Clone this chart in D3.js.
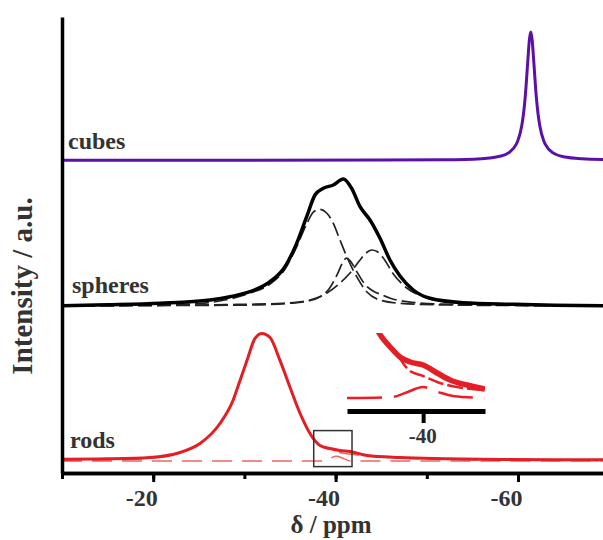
<!DOCTYPE html>
<html><head><meta charset="utf-8">
<script src="https://cdn.jsdelivr.net/npm/d3@7"></script>
<style>body{margin:0;background:#fff}svg{display:block}</style>
</head><body>
<svg id="c" width="603" height="540"></svg>
<script>
// ---------- DATA ----------
const seriesNames = ["cubes", "spheres", "rods"];
const xMinorTicks = [-10, -20, -30, -40, -50, -60, -70];
const xMajorTicks = [-20, -40, -60];
const xTickLabels = ["-20", "-40", "-60"];
const insetTicks = [-40];
const insetTickLabels = ["-40"];

// cubes (solid)
const cubesPpm = [-10,-30,-45,-52,-56,-58,-59,-59.8,-60.0,-60.4,-60.6,-60.8,-61.1,-61.25,-61.4,-61.55,-61.7,-62.0,-62.2,-62.4,-62.8,-63.0,-63.8,-65,-67,-70];
const cubesInt = [0,0.01,0.04,0.11,0.34,0.85,1.65,3.46,4.36,7.43,10.12,14.05,22.48,26.45,28.1,26.45,22.48,14.05,10.12,7.43,4.36,3.46,1.65,0.76,0.32,0.14];

// spheres (solid) + three fitted components (dashed)
const spheresPpm = [-10,-15,-20.75,-26.23,-28.42,-30.61,-32.81,-34.45,-35.73,-36.83,-37.74,-38.65,-39.75,-40.84,-41.76,-42.68,-43.77,-44.87,-45.96,-47.06,-48.52,-50.35,-54.0,-59.45,-64,-70];
const spheresInt = [0.05,0.25,0.59,1.32,2.04,3.14,5.33,8.62,13.75,19.58,24.34,25.81,26.54,27.85,25.81,21.78,18.86,14.85,10.09,6.58,3.51,1.69,0.72,0.37,0.15,0.05];
const sph1Ppm = [-10,-20.75,-25.13,-28.42,-30.61,-32.81,-34.45,-35.73,-36.83,-37.56,-38.29,-39.02,-39.75,-40.48,-41.39,-42.31,-43.41,-44.87,-47.06,-52.54,-60.2,-70];
const sph1Int = [0.1,0.22,0.55,1.54,2.85,4.82,8.11,13.0,18.0,20.6,21.2,20.39,18.14,14.47,10.09,6.43,3.14,1.3,0.59,0.22,0.11,0.07];
const sph2Ppm = [-10,-20,-30,-35,-37,-38.3,-39.3,-40.2,-40.8,-41.2,-41.6,-42.3,-43.2,-44.2,-44.9,-46,-48,-52,-60,-70];
const sph2Int = [0.05,0.1,0.2,0.6,1.1,2.0,3.8,7.0,9.6,10.5,9.9,7.6,4.8,3.2,2.6,1.7,0.9,0.4,0.15,0.07];
const sph3Ppm = [-10,-20,-28,-34.23,-37.19,-39.02,-40.48,-41.58,-42.68,-43.33,-43.96,-44.54,-45.23,-46.33,-47.8,-49.58,-52.18,-58.03,-64,-70];
const sph3Int = [0.05,0.15,0.3,0.59,1.32,2.79,5.04,7.24,10.09,11.6,12.28,11.95,10.53,7.02,3.95,2.04,0.94,0.33,0.17,0.1];

// rods (solid) + two fitted components (dashed)
const rodsPpm = [-10,-15,-19.65,-22.94,-25.13,-27.32,-28.75,-29.52,-30.29,-31.16,-31.93,-32.81,-33.9,-35.0,-36.1,-37.19,-38.29,-39.39,-40.48,-41.58,-43.44,-47.06,-52,-58.03,-64,-70];
const rodsInt = [0.1,0.2,0.5,1.6,3.57,7.96,13.0,17.4,21.8,26.6,27.7,26.8,21.8,15.9,10.2,5.77,3.14,2.48,2.04,1.82,0.94,0.5,0.25,0.07,0.02,0];
const rodsFit1Ppm = [-10,-15,-19.65,-22.94,-25.13,-27.32,-28.75,-29.52,-30.29,-31.16,-31.93,-32.81,-33.9,-35.0,-36.1,-37.19,-38.29,-39.39,-40.48,-41.58,-43.44,-47.06,-52,-58.03,-64,-70];
const rodsFit1Int = [-0.2,-0.1,0.3,1.5,3.5,7.9,13.0,17.4,21.8,26.6,27.7,26.8,21.8,15.9,10.2,5.77,3.1,2.15,1.55,1.25,0.8,0.4,0.1,-0.1,-0.15,-0.2];
const rodsFit2Ppm = [-10,-38.6,-39.3,-40.1,-40.9,-41.6,-70];
const rodsFit2Int = [-0.25,-0.25,0.25,0.75,0.25,-0.25,-0.25];

// inset (magnified rods shoulder), values in inset units
const insetSolidPpm = [-38.39,-38.61,-38.96,-39.27,-39.59,-40.0,-40.44,-40.85,-41.38,-41.95];
const insetSolidInt = [1.23,1.0,0.785,0.631,0.554,0.508,0.385,0.277,0.2,0.138];
const insetFit1Ppm = [-39.2,-39.55,-40.0,-40.53,-41.16,-41.95];
const insetFit1Int = [0.66,0.43,0.338,0.231,0.16,0.12];
const insetFit2Ppm = [-37.6,-39.02,-39.43,-40.0,-40.47,-40.94,-41.95];
const insetFit2Int = [0,0.015,0.077,0.169,0.092,0.031,0];

// ---------- DRAWING ----------
const svg = d3.select("#c");
const W = 603, H = 540;
const FONT = "'Liberation Serif', 'Times New Roman', Times, serif";
const x = d3.scaleLinear().domain([-10, -70]).range([62, 609.2]);
const y = d3.scaleLinear().domain([0, 100]).range([473, 17]);
const offsets = {cubes: 68.6, spheres: 36.62, rods: 2.9};
const zip = (a, b) => a.map((v, i) => [v, b[i]]);
const mkLine = (off) => d3.line().x(d => x(d[0])).y(d => y(off + d[1])).curve(d3.curveMonotoneX);
const styleText = (sel, size) => sel.attr("font-family", FONT).attr("font-weight", "bold")
  .attr("font-size", size).attr("fill", "#333");

svg.append("defs").append("clipPath").attr("id", "plotclip")
  .append("rect").attr("x", 62).attr("y", 0).attr("width", W - 62).attr("height", 473);

const plot = svg.append("g").attr("clip-path", "url(#plotclip)");

// rods
const rodsRed = "#e31e24";
const rodsDash = "#f06464";
plot.append("path").datum(zip(rodsFit2Ppm, rodsFit2Int)).attr("d", mkLine(offsets.rods))
  .attr("fill", "none").attr("stroke", rodsDash).attr("stroke-width", 1.5).attr("stroke-dasharray", "20,10");
plot.append("path").datum(zip(rodsFit1Ppm, rodsFit1Int)).attr("d", mkLine(offsets.rods))
  .attr("fill", "none").attr("stroke", rodsDash).attr("stroke-width", 1.5).attr("stroke-dasharray", "20,10");
plot.append("path").datum(zip(rodsPpm, rodsInt)).attr("d", mkLine(offsets.rods))
  .attr("fill", "none").attr("stroke", rodsRed).attr("stroke-width", 3);

// spheres
[[sph1Ppm, sph1Int], [sph2Ppm, sph2Int], [sph3Ppm, sph3Int]].forEach(([p, v]) => {
  plot.append("path").datum(zip(p, v)).attr("d", mkLine(offsets.spheres))
    .attr("fill", "none").attr("stroke", "#222").attr("stroke-width", 1.7).attr("stroke-dasharray", "14,5");
});
plot.append("path").datum(zip(spheresPpm, spheresInt)).attr("d", mkLine(offsets.spheres))
  .attr("fill", "none").attr("stroke", "#000").attr("stroke-width", 3.5);

// cubes
plot.append("path").datum(zip(cubesPpm, cubesInt)).attr("d", mkLine(offsets.cubes))
  .attr("fill", "none").attr("stroke", "#5c10a8").attr("stroke-width", 3);

// zoom box
const boxPpm = [-37.6, -41.8];
const boxInt = [6.4, -1.5];
svg.append("rect")
  .attr("x", x(boxPpm[0])).attr("y", y(offsets.rods + boxInt[0]))
  .attr("width", x(boxPpm[1]) - x(boxPpm[0]))
  .attr("height", y(offsets.rods + boxInt[1]) - y(offsets.rods + boxInt[0]))
  .attr("fill", "none").attr("stroke", "#333").attr("stroke-width", 1.5);

// inset
const ix = d3.scaleLinear().domain([-37.6, -41.95]).range([347, 485]);
const iy = d3.scaleLinear().domain([0, 1]).range([398, 333]);
svg.select("defs").append("clipPath").attr("id", "insetclip")
  .append("rect").attr("x", 347).attr("y", 333).attr("width", 138).attr("height", 72);
const inset = svg.append("g").attr("clip-path", "url(#insetclip)");
const iLine = d3.line().x(d => ix(d[0])).y(d => iy(d[1])).curve(d3.curveMonotoneX);
inset.append("path").datum(zip(insetFit2Ppm, insetFit2Int)).attr("d", iLine)
  .attr("fill", "none").attr("stroke", "#ee1c24").attr("stroke-width", 2.5).attr("stroke-dasharray", "35,12");
inset.append("path").datum(zip(insetFit1Ppm, insetFit1Int)).attr("d", iLine)
  .attr("fill", "none").attr("stroke", "#ee1c24").attr("stroke-width", 2.5).attr("stroke-dasharray", "16,4");
inset.append("path").datum(zip(insetSolidPpm, insetSolidInt)).attr("d", iLine)
  .attr("fill", "none").attr("stroke", rodsRed).attr("stroke-width", 5.5);

const insetAxis = d3.axisBottom(ix).tickValues(insetTicks).tickSize(12).tickSizeOuter(0)
  .tickFormat((d, i) => insetTickLabels[i]);
const iax = svg.append("g").attr("transform", "translate(0,411)").call(insetAxis);
iax.attr("font-family", null).attr("font-size", null);
iax.select(".domain").attr("stroke", "#000").attr("stroke-width", 5);
iax.selectAll(".tick line").attr("stroke", "#000").attr("stroke-width", 4);
styleText(iax.selectAll(".tick text").attr("y", 32).attr("dy", 0).attr("dx", -1), 21);

// axes
const minorAxis = d3.axisBottom(x).tickValues(xMinorTicks).tickSize(6).tickSizeOuter(0).tickFormat("");
const majorAxis = d3.axisBottom(x).tickValues(xMajorTicks).tickSize(9).tickSizeOuter(0)
  .tickFormat((d, i) => xTickLabels[i]);
const gMin = svg.append("g").attr("transform", "translate(0,473)").call(minorAxis);
const gMaj = svg.append("g").attr("transform", "translate(0,473)").call(majorAxis);
[gMin, gMaj].forEach(g => {
  g.attr("font-family", null).attr("font-size", null);
  g.select(".domain").attr("stroke", "#000").attr("stroke-width", 3.5);
  g.selectAll(".tick line").attr("stroke", "#000").attr("stroke-width", 3);
});
styleText(gMaj.selectAll(".tick text").attr("y", 33).attr("dy", 0).attr("dx", -12), 24);

const leftAxis = d3.axisLeft(y).tickValues([]).tickSizeOuter(0);
const gl = svg.append("g").attr("transform", "translate(62,0)").call(leftAxis);
gl.select(".domain").attr("stroke", "#000").attr("stroke-width", 3.5);

// series labels
const labelPos = {cubes: [68, 149], spheres: [72, 293], rods: [70, 448]};
seriesNames.forEach(n => {
  styleText(svg.append("text").attr("x", labelPos[n][0]).attr("y", labelPos[n][1]).text(n), 24);
});

// axis titles
styleText(svg.append("text").attr("x", 331).attr("y", 533).attr("text-anchor", "middle").text("δ / ppm"), 25);
styleText(svg.append("text").attr("transform", "translate(32,286) rotate(-90)").attr("text-anchor", "middle")
  .text("Intensity / a.u."), 29);
</script>
</body></html>
